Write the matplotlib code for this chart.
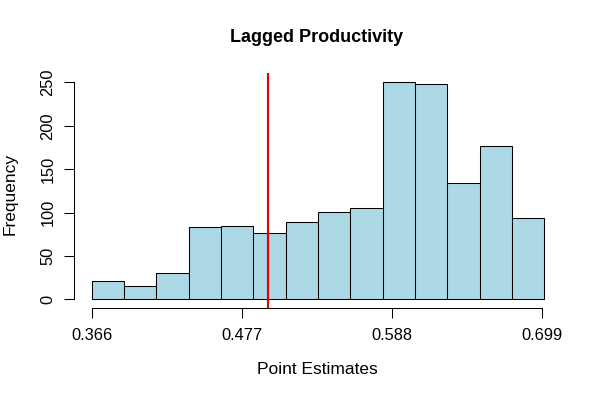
import matplotlib
matplotlib.use("Agg")
import matplotlib.pyplot as plt

plt.rcParams['font.family'] = ['Liberation Sans', 'DejaVu Sans']

# Histogram bin edges and counts
bin_edges = [0.3660, 0.3899, 0.4139, 0.4378, 0.4617, 0.4856, 0.5096, 0.5335,
             0.5574, 0.5813, 0.6053, 0.6292, 0.6531, 0.6771, 0.7010]
counts = [21, 15, 30, 83, 84, 77, 89, 101, 105, 250, 248, 134, 177, 94]
x_ticks = [0.366, 0.477, 0.588, 0.699]
x_tick_labels = ["0.366", "0.477", "0.588", "0.699"]
y_ticks = [0, 50, 100, 150, 200, 250]
ref_line = 0.4965

fig = plt.figure(figsize=(6, 4), dpi=100)
ax = fig.add_axes([0.1225, 0.229, 0.815, 0.5875])

lefts = bin_edges[:-1]
widths = [b - a for a, b in zip(bin_edges[:-1], bin_edges[1:])]
ax.bar(lefts, counts, width=widths, align='edge', color='#ADD8E6',
       edgecolor='black', linewidth=0.75)
ax.axvline(ref_line, color='#E00000', linewidth=1.5)

rng = bin_edges[-1] - bin_edges[0]
ax.set_xlim(bin_edges[0] - 0.04 * rng, bin_edges[-1] + 0.04 * rng)
ax.set_ylim(-0.04 * 260, 250 + 0.04 * 260)

for s in ['top', 'right']:
    ax.spines[s].set_visible(False)
ax.spines['left'].set_bounds(0, 250)
ax.spines['bottom'].set_bounds(x_ticks[0], x_ticks[-1])
for s in ['left', 'bottom']:
    ax.spines[s].set_linewidth(0.75)

ax.set_xticks(x_ticks)
ax.set_xticklabels(x_tick_labels)
ax.set_yticks(y_ticks)
ax.set_yticklabels([str(v) for v in y_ticks], rotation=90, va='center')
ax.tick_params(axis='both', length=7, width=0.75, labelsize=11.8, colors='black')
ax.tick_params(axis='x', pad=7)
ax.tick_params(axis='y', pad=6)

fig.text(316.5 / 600, 1 - 38 / 400, "Lagged Productivity", ha='center', va='center',
         fontsize=13, fontweight='bold')
fig.text(317 / 600, 1 - 369.5 / 400, "Point Estimates", ha='center', va='center',
         fontsize=12.5)
fig.text(10 / 600, 1 - 193.5 / 400, "Frequency", ha='center', va='center',
         rotation=90, fontsize=12.5)

fig.savefig("out.png", dpi=100)
